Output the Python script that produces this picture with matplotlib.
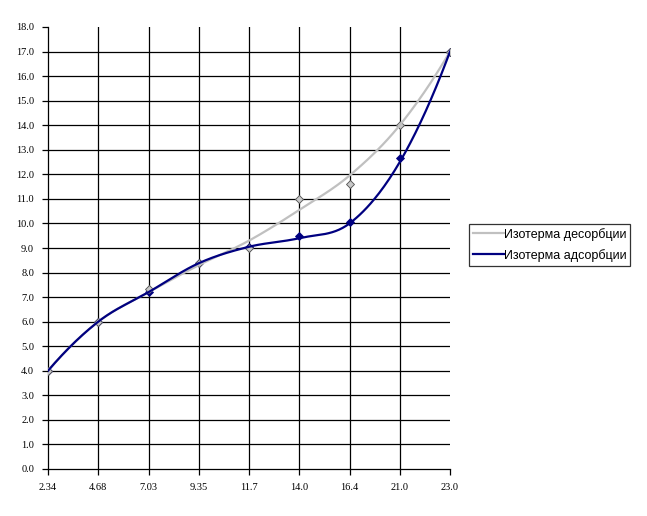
import matplotlib.pyplot as plt
import numpy as np

categories = ['2.34', '4.68', '7.03', '9.35', '11.7', '14.0', '16.4', '21.0', '23.0']
# measured points (markers)
desorption_pts = [4.0, 6.0, 7.35, 8.38, 9.0, 11.0, 11.6, 14.0, 17.0]
adsorption_pts = [4.0, 6.0, 7.2, 8.38, 9.05, 9.5, 10.05, 12.65, 17.0]
# smoothed isotherm curves (lines) read at each category
desorption_line = [4.0, 6.0, 7.2, 8.3, 9.3, 10.55, 11.95, 14.0, 17.0]
adsorption_line = [4.0, 6.0, 7.2, 8.38, 9.05, 9.4, 10.0, 12.5, 17.0]
y_ticks = np.arange(0, 18.5, 1.0)


def smooth(y, n=30):
    # hermite spline, catmull-rom tangents inside, reflected tangents at the ends
    y = np.asarray(y, dtype=float)
    m = np.zeros_like(y)
    m[1:-1] = (y[2:] - y[:-2]) / 2
    m[0] = 2 * (y[1] - y[0]) - m[1]
    m[-1] = 2 * (y[-1] - y[-2]) - m[-2]
    t = np.linspace(0, 1, n)
    h00 = 2 * t ** 3 - 3 * t ** 2 + 1
    h10 = t ** 3 - 2 * t ** 2 + t
    h01 = -2 * t ** 3 + 3 * t ** 2
    h11 = t ** 3 - t ** 2
    xs, ys = [], []
    for i in range(len(y) - 1):
        xs.extend(i + t)
        ys.extend(h00 * y[i] + h10 * m[i] + h01 * y[i + 1] + h11 * m[i + 1])
    return np.array(xs), np.array(ys)


fig = plt.figure(figsize=(6.47, 5.16), dpi=100)
ax = fig.add_axes([48 / 647, 1 - 469 / 516, 402 / 647, 442 / 516])

idx = np.arange(len(categories))
for v in y_ticks[1:-1]:
    ax.axhline(v, color='black', lw=0.9, zorder=1)
for i in idx[1:-1]:
    ax.axvline(i, color='black', lw=0.9, zorder=1)

ax.plot(idx, adsorption_pts, ls='none', marker='D', ms=4.5, mfc='#000080', mec='#000080', mew=0.6, zorder=2)
ax.plot(idx, desorption_pts, ls='none', marker='D', ms=4.5, mfc='#C8C8C8', mec='#505050', mew=0.6, zorder=3)

xd, yd = smooth(desorption_line)
xa, ya = smooth(adsorption_line)
ax.plot(xd, yd, color='#C0C0C0', lw=1.6, label='Изотерма десорбции', zorder=4)
ax.plot(xa, ya, color='#000080', lw=1.6, label='Изотерма адсорбции', zorder=5)

ax.set_xlim(0, len(categories) - 1)
ax.set_ylim(0, 18)
ax.set_xticks(idx)
ax.set_xticklabels(categories)
ax.set_yticks(y_ticks)
ax.set_yticklabels(['%.1f' % v for v in y_ticks])
for lab in ax.get_xticklabels() + ax.get_yticklabels():
    lab.set_fontfamily('Liberation Serif')
    lab.set_fontsize(7.5)
ax.tick_params(direction='out', length=4, width=0.9, color='black', pad=6)
ax.spines['top'].set_visible(False)
ax.spines['right'].set_visible(False)
ax.spines['left'].set_linewidth(0.9)
ax.spines['bottom'].set_linewidth(0.9)

leg = fig.legend(loc='upper left', bbox_to_anchor=(469 / 647, 1 - 224 / 516),
                 prop={'family': 'Liberation Sans', 'size': 9}, frameon=True,
                 fancybox=False, edgecolor='black', handlelength=2.5,
                 handletextpad=0.0, borderpad=0.3, labelspacing=0.65, borderaxespad=0)
leg.get_frame().set_linewidth(0.9)

fig.savefig('out.png', dpi=100)
